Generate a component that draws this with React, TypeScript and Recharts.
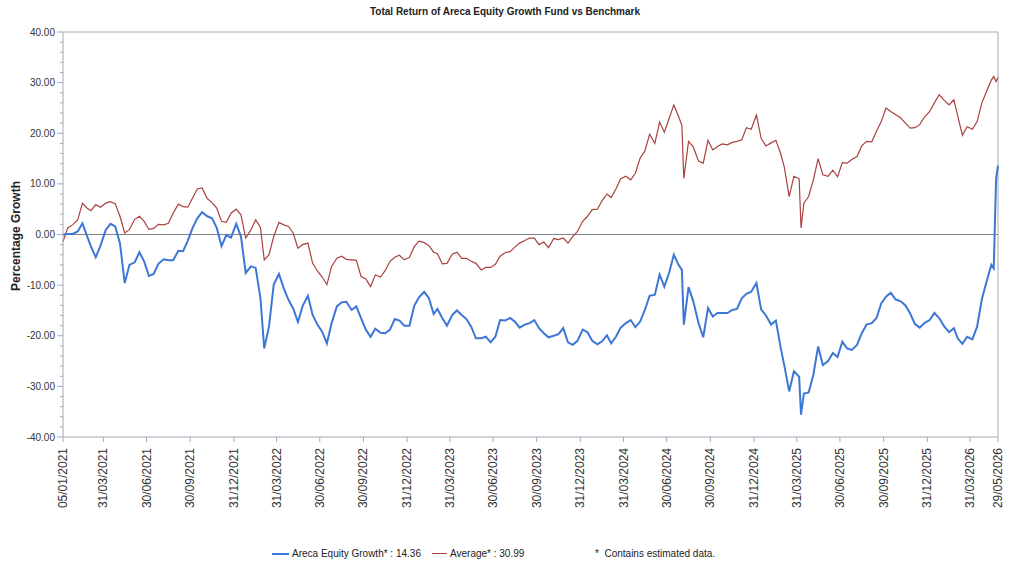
import React from 'react';
import { LineChart, Line, XAxis, YAxis, ReferenceLine } from 'recharts';

// sample dates (roughly every ten days, plus a few around sharp moves)
const dates = [
  '2021-01-05', '2021-01-15', '2021-01-25',
  '2021-02-05', '2021-02-15', '2021-02-25',
  '2021-03-05', '2021-03-15', '2021-03-25',
  '2021-04-05', '2021-04-15', '2021-04-25',
  '2021-05-05', '2021-05-15', '2021-05-25',
  '2021-06-05', '2021-06-15', '2021-06-25',
  '2021-07-05', '2021-07-15', '2021-07-25',
  '2021-08-05', '2021-08-15', '2021-08-25',
  '2021-09-05', '2021-09-15', '2021-09-25',
  '2021-10-05', '2021-10-15', '2021-10-25',
  '2021-11-05', '2021-11-15', '2021-11-25',
  '2021-12-05', '2021-12-15', '2021-12-25',
  '2022-01-05', '2022-01-15', '2022-01-25',
  '2022-02-05', '2022-02-15', '2022-02-25',
  '2022-03-05', '2022-03-15', '2022-03-25',
  '2022-04-05', '2022-04-15', '2022-04-25',
  '2022-05-05', '2022-05-15', '2022-05-25',
  '2022-06-05', '2022-06-15', '2022-06-25',
  '2022-07-05', '2022-07-15', '2022-07-25',
  '2022-08-05', '2022-08-15', '2022-08-25',
  '2022-09-05', '2022-09-15', '2022-09-25',
  '2022-10-05', '2022-10-15', '2022-10-25',
  '2022-11-05', '2022-11-15', '2022-11-25',
  '2022-12-05', '2022-12-15', '2022-12-25',
  '2023-01-05', '2023-01-15', '2023-01-25',
  '2023-02-05', '2023-02-15', '2023-02-25',
  '2023-03-05', '2023-03-15', '2023-03-25',
  '2023-04-05', '2023-04-15', '2023-04-25',
  '2023-05-05', '2023-05-15', '2023-05-25',
  '2023-06-05', '2023-06-15', '2023-06-25',
  '2023-07-05', '2023-07-15', '2023-07-25',
  '2023-08-05', '2023-08-15', '2023-08-25',
  '2023-09-05', '2023-09-15', '2023-09-25',
  '2023-10-05', '2023-10-15', '2023-10-25',
  '2023-11-05', '2023-11-15', '2023-11-25',
  '2023-12-05', '2023-12-15', '2023-12-25',
  '2024-01-05', '2024-01-15', '2024-01-25',
  '2024-02-05', '2024-02-15', '2024-02-25',
  '2024-03-05', '2024-03-15', '2024-03-25',
  '2024-04-05', '2024-04-15', '2024-04-25',
  '2024-05-05', '2024-05-15', '2024-05-25',
  '2024-06-05', '2024-06-15', '2024-06-25',
  '2024-07-05', '2024-07-15', '2024-07-25',
  '2024-08-01', '2024-08-05', '2024-08-15', '2024-08-25',
  '2024-09-05', '2024-09-15', '2024-09-25',
  '2024-10-05', '2024-10-15', '2024-10-25',
  '2024-11-05', '2024-11-15', '2024-11-25',
  '2024-12-05', '2024-12-15', '2024-12-25',
  '2025-01-05', '2025-01-15', '2025-01-25',
  '2025-02-05', '2025-02-15', '2025-02-25',
  '2025-03-05', '2025-03-15', '2025-03-25',
  '2025-04-05', '2025-04-09', '2025-04-15', '2025-04-25',
  '2025-05-05', '2025-05-15', '2025-05-25',
  '2025-06-05', '2025-06-15', '2025-06-25',
  '2025-07-05', '2025-07-15', '2025-07-25',
  '2025-08-05', '2025-08-15', '2025-08-25',
  '2025-09-05', '2025-09-15', '2025-09-25',
  '2025-10-05', '2025-10-15', '2025-10-25',
  '2025-11-05', '2025-11-15', '2025-11-25',
  '2025-12-05', '2025-12-15', '2025-12-25',
  '2026-01-05', '2026-01-15', '2026-01-25',
  '2026-02-05', '2026-02-15', '2026-02-25',
  '2026-03-05', '2026-03-15', '2026-03-25',
  '2026-04-05', '2026-04-15', '2026-04-25',
  '2026-05-05', '2026-05-15', '2026-05-20', '2026-05-25', '2026-05-29',
];

// Areca Equity Growth, % total return
const fundValues = [
  0.0, 0.1, 0.1,
  0.6, 2.2, -0.4,
  -2.4, -4.5, -2.2,
  0.9, 2.1, 1.6,
  -1.7, -9.6, -6.0,
  -5.5, -3.5, -5.3,
  -8.2, -7.8, -5.8,
  -4.9, -5.1, -5.1,
  -3.2, -3.3, -1.2,
  1.3, 3.2, 4.4,
  3.6, 3.2, 1.3,
  -2.3, -0.1, -0.6,
  2.1, -0.4, -7.6,
  -6.3, -6.6, -12.6,
  -22.5, -18.2, -9.9,
  -7.8, -10.6, -12.9,
  -14.6, -17.3, -14.1,
  -12.1, -15.9, -17.8,
  -19.2, -21.5, -17.5,
  -14.2, -13.4, -13.3,
  -14.9, -14.2, -16.5,
  -18.8, -20.2, -18.6,
  -19.4, -19.5, -18.8,
  -16.7, -17.0, -18.0,
  -18.0, -14.1, -12.4,
  -11.3, -12.6, -15.7,
  -14.7, -16.5, -18.0,
  -15.9, -15.0, -15.9,
  -16.7, -18.2, -20.5,
  -20.5, -20.2, -21.3,
  -20.2, -16.9, -17.0,
  -16.5, -17.2, -18.4,
  -17.8, -17.5, -16.9,
  -18.5, -19.5, -20.3,
  -20.0, -19.7, -18.5,
  -21.3, -21.8, -21.0,
  -18.8, -19.3, -21.0,
  -21.7, -21.1, -19.9,
  -21.5, -20.2, -18.4,
  -17.5, -16.9, -18.3,
  -17.2, -14.9, -12.1,
  -11.9, -7.9, -10.3,
  -7.6, -4.0, -6.0,
  -7.0, -17.8, -10.4, -13.2,
  -17.5, -20.3, -14.5,
  -16.2, -15.5, -15.5,
  -15.5, -14.9, -14.7,
  -12.6, -11.7, -11.3,
  -9.6, -14.8, -16.0,
  -17.8, -17.0, -22.3,
  -26.0, -31.0, -27.0,
  -28.1, -35.6, -31.4, -31.2,
  -27.7, -22.1, -25.8,
  -25.0, -23.4, -24.2,
  -21.2, -22.5, -22.8,
  -21.8, -19.5, -17.8,
  -17.5, -16.5, -13.6,
  -12.3, -11.5, -12.8,
  -13.2, -14.0, -15.6,
  -17.7, -18.4, -17.5,
  -16.9, -15.5, -16.5,
  -18.2, -19.3, -18.5,
  -20.5, -21.6, -20.2,
  -20.7, -18.2, -12.8,
  -9.3, -6.0, -6.7, 11.0, 13.6,
];

// Average (benchmark), % total return
const averageValues = [
  -1.4, 1.3, 1.9,
  2.9, 6.2, 5.2,
  4.7, 5.9, 5.4,
  6.2, 6.5, 6.1,
  3.6, 0.3, 1.0,
  3.0, 3.6, 2.6,
  1.0, 1.2, 2.0,
  1.9, 2.2, 4.2,
  6.0, 5.5, 5.4,
  7.2, 9.0, 9.2,
  7.1, 6.3, 5.2,
  2.6, 2.4, 4.2,
  5.0, 3.9, -0.7,
  0.9, 2.9, 1.4,
  -5.0, -4.0, -0.4,
  2.4, 1.9, 1.6,
  0.3, -2.7, -2.0,
  -1.7, -5.7, -7.2,
  -8.4, -9.9, -6.3,
  -4.7, -4.3, -4.9,
  -5.0, -5.1, -8.3,
  -8.8, -10.3, -8.0,
  -8.4, -7.1, -5.3,
  -4.5, -4.1, -5.0,
  -4.5, -2.4, -1.3,
  -1.6, -2.2, -3.5,
  -3.8, -5.8, -5.7,
  -3.9, -3.5, -4.7,
  -4.7, -5.3, -5.7,
  -7.0, -6.5, -6.5,
  -5.9, -4.3, -3.6,
  -3.4, -2.5, -1.7,
  -1.2, -0.7, -0.7,
  -2.0, -1.5, -2.6,
  -0.8, -1.0, -0.7,
  -1.7, -0.4, 0.6,
  2.6, 3.6, 4.9,
  5.0, 6.7, 8.0,
  7.3, 9.0, 11.0,
  11.5, 10.8, 12.1,
  15.1, 16.5, 19.8,
  18.0, 22.2, 20.2,
  22.9, 25.6, 23.3,
  21.5, 11.1, 18.4, 17.3,
  14.5, 14.1, 18.6,
  16.7, 17.4, 17.9,
  17.7, 18.2, 18.4,
  18.7, 21.1, 20.8,
  23.6, 19.0, 17.5,
  18.1, 18.6, 16.0,
  13.2, 7.5, 11.5,
  11.0, 1.3, 6.2, 7.5,
  10.8, 15.0, 11.8,
  11.5, 12.7, 11.4,
  14.2, 14.1, 14.8,
  15.4, 17.5, 18.4,
  18.3, 20.4, 22.3,
  25.0, 24.3, 23.7,
  23.0, 22.0, 21.0,
  21.1, 21.7, 23.2,
  24.3, 26.0, 27.6,
  26.5, 25.6, 26.6,
  23.5, 19.6, 21.3,
  20.8, 22.3, 26.0,
  28.3, 30.5, 31.2, 30.2, 30.99,
];

const tickDates = [
  '2021-01-05', '2021-03-31', '2021-06-30', '2021-09-30', '2021-12-31',
  '2022-03-31', '2022-06-30', '2022-09-30', '2022-12-31',
  '2023-03-31', '2023-06-30', '2023-09-30', '2023-12-31',
  '2024-03-31', '2024-06-30', '2024-09-30', '2024-12-31',
  '2025-03-31', '2025-06-30', '2025-09-30', '2025-12-31',
  '2026-03-31', '2026-05-29',
];

const yTicks = [
  -40, -38, -36, -34, -32, -30, -28, -26, -24, -22, -20, -18, -16, -14, -12, -10,
  -8, -6, -4, -2, 0, 2, 4, 6, 8, 10, 12, 14, 16, 18, 20, 22, 24, 26, 28, 30, 32,
  34, 36, 38, 40,
];

const FUND_COLOR = '#3d77d6';
const AVG_COLOR = '#a8423f';
const AXIS_COLOR = '#a3aab8';
const FONT = '"Liberation Sans", Arial, sans-serif';

const toTime = (s: string) => new Date(s + 'T00:00:00Z').getTime();

const chartData = dates.map((d, i) => ({
  t: toTime(d),
  fund: fundValues[i],
  avg: averageValues[i],
}));

const xStart = toTime(dates[0]);
const xEnd = toTime(dates[dates.length - 1]);

function fmtDate(v: number) {
  const d = new Date(v);
  const dd = String(d.getUTCDate()).padStart(2, '0');
  const mm = String(d.getUTCMonth() + 1).padStart(2, '0');
  return `${dd}/${mm}/${d.getUTCFullYear()}`;
}

function DateTick(props: any) {
  const { x, y, payload } = props;
  return (
    <g transform={`translate(${x},${y})`}>
      <line x1={0} y1={0} x2={0} y2={5} stroke={AXIS_COLOR} />
      <text
        transform="rotate(-90)"
        x={-11}
        y={4}
        textAnchor="end"
        fontSize={12}
        fontFamily={FONT}
        fill="#333"
      >
        {fmtDate(payload.value)}
      </text>
    </g>
  );
}

function ValueTick(props: any) {
  const { x, y, payload } = props;
  const major = payload.value % 10 === 0;
  return (
    <g>
      <line x1={x - (major ? 6 : 3)} x2={x} y1={y} y2={y} stroke={AXIS_COLOR} />
      {major && (
        <text
          x={x - 8}
          y={y}
          dy={3.5}
          textAnchor="end"
          fontSize={10}
          fontFamily={FONT}
          fill="#333"
        >
          {payload.value.toFixed(2)}
        </text>
      )}
    </g>
  );
}

export default function App() {
  return (
    <div
      style={{
        position: 'absolute',
        left: 0,
        top: 0,
        width: 1014,
        height: 565,
        background: '#fff',
        fontFamily: FONT,
        color: '#222',
      }}
    >
      <div
        style={{
          position: 'absolute',
          top: 6,
          left: 0,
          width: 1010,
          textAlign: 'center',
          fontSize: 10,
          fontWeight: 'bold',
        }}
      >
        Total Return of Areca Equity Growth Fund vs Benchmark
      </div>
      <div
        style={{
          position: 'absolute',
          left: 16,
          top: 236,
          transform: 'translate(-50%, -50%) rotate(-90deg)',
          whiteSpace: 'nowrap',
          fontSize: 12,
          fontWeight: 'bold',
        }}
      >
        Percentage Growth
      </div>

      <LineChart
        width={1014}
        height={565}
        data={chartData}
        margin={{ top: 32, right: 16, bottom: 0, left: 0 }}
      >
        <XAxis
          dataKey="t"
          type="number"
          domain={[xStart, xEnd]}
          ticks={tickDates.map(toTime)}
          interval={0}
          height={128}
          tickSize={0}
          tickMargin={0}
          tickLine={false}
          axisLine={{ stroke: AXIS_COLOR }}
          tick={<DateTick />}
        />
        <YAxis
          domain={[-40, 40]}
          ticks={yTicks}
          interval={0}
          width={63}
          tickSize={0}
          tickMargin={0}
          tickLine={false}
          axisLine={{ stroke: AXIS_COLOR }}
          tick={<ValueTick />}
        />
        <ReferenceLine y={40} stroke={AXIS_COLOR} />
        <ReferenceLine x={xEnd} stroke={AXIS_COLOR} />
        <ReferenceLine y={0} stroke="#7c8391" />
        <Line
          type="linear"
          dataKey="avg"
          stroke={AVG_COLOR}
          strokeWidth={1.2}
          dot={false}
          isAnimationActive={false}
        />
        <Line
          type="linear"
          dataKey="fund"
          stroke={FUND_COLOR}
          strokeWidth={2}
          dot={false}
          isAnimationActive={false}
        />
      </LineChart>

      <div
        style={{
          position: 'absolute',
          top: 547,
          left: 0,
          width: 1014,
          height: 14,
          fontSize: 10,
          lineHeight: '14px',
        }}
      >
        <span
          style={{ position: 'absolute', left: 272, top: 6, width: 17, height: 2, background: FUND_COLOR }}
        />
        <span style={{ position: 'absolute', left: 292, top: 0 }}>Areca Equity Growth* : 14.36</span>
        <span
          style={{ position: 'absolute', left: 432, top: 6, width: 15, height: 1, background: AVG_COLOR }}
        />
        <span style={{ position: 'absolute', left: 450, top: 0 }}>Average* : 30.99</span>
        <span style={{ position: 'absolute', left: 595, top: 0 }}>*&nbsp;&nbsp;Contains estimated data.</span>
      </div>
    </div>
  );
}
